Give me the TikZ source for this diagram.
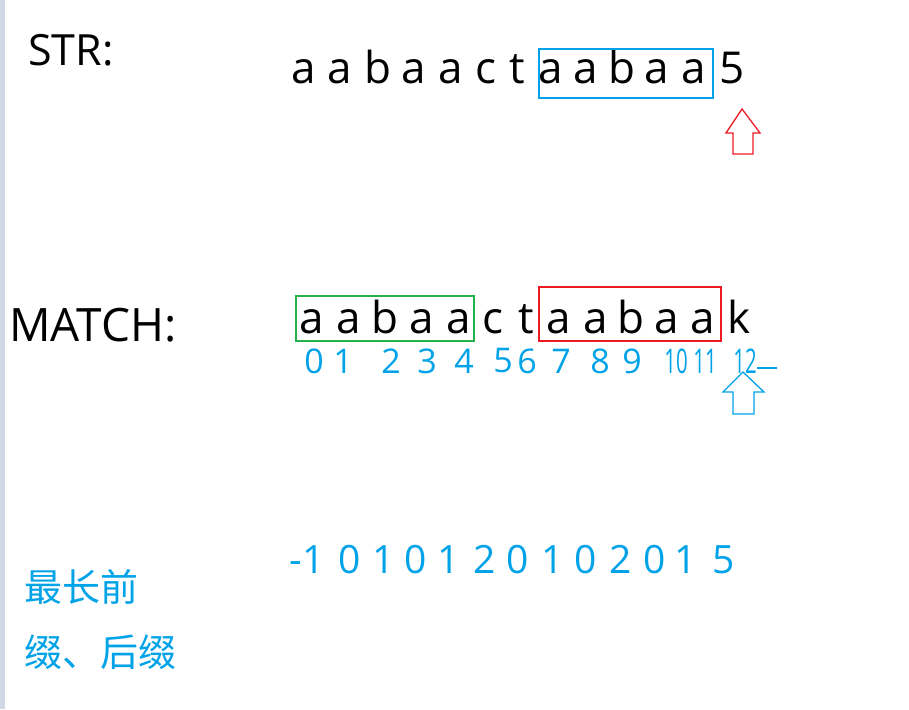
\documentclass[tikz,border=0pt]{standalone}
\usepackage{fontspec}
\setmainfont{Open Sans}
\newfontfamily\cjkfont{Noto Sans CJK SC}
\definecolor{pblue}{RGB}{0,162,232}
\definecolor{pred}{RGB}{237,28,36}
\definecolor{pgreen}{RGB}{34,177,76}
\definecolor{barcol}{RGB}{208,216,232}
\begin{document}
\begin{tikzpicture}[x=1pt,y=-1pt,
  chr/.style={inner sep=0pt,anchor=base,font=\fontsize{44}{50}\selectfont},
  lbl/.style={inner sep=0pt,anchor=base west,font=\fontsize{43}{50}\selectfont},
  hand/.style={inner sep=0pt,anchor=center,text=pblue,font=\fontsize{34}{38}\selectfont},
  num/.style={inner sep=0pt,anchor=base,text=pblue,font=\fontsize{39}{44}\selectfont},
  cjk/.style={inner sep=0pt,anchor=base west,text=pblue,font=\cjkfont\fontsize{38}{44}\selectfont},
  boxline/.style={line width=1.6pt},
  arrowshape/.style={line width=1.3pt,line join=miter}]
\useasboundingbox (0,0) rectangle (909,709);
\fill[barcol] (0,0) rectangle (5,709);
% labels
\node[lbl] (str) at (28,66) {STR:};
\node[lbl,font=\fontsize{46}{52}\selectfont] (match) at (9,341) {MATCH:};
% row 1
\foreach \c/\x [count=\i] in {a/304,a/340,b/378,a/414,a/451,c/486,t/517,a/551,a/586,b/622,a/657,a/694,5/732}
  \node[chr] (s\i) at (\x,83) {\c};
\draw[pblue,boxline] (539,49) rectangle (713,98);
% red arrow
\draw[pred,arrowshape] (742,109) -- (760,133) -- (753,133) -- (753,154) -- (733,154) -- (733,133) -- (726,133) -- cycle;
% row 2
\foreach \c/\x [count=\i] in {a/312,a/349,b/385,a/422,a/459,c/493,t/526,a/559,a/596,b/631,a/667,a/703,k/739}
  \node[chr] (m\i) at (\x,333) {\c};
\draw[pgreen,boxline] (296,296) rectangle (474,341);
\draw[pred,boxline] (539,287) rectangle (721,341);
% handwritten indices
\foreach \t/\x [count=\i] in {0/314,1/343,2/391,3/427,4/464,5/503,6/527,7/561,8/600,9/632}
  \node[hand] (h\i) at (\x,361) {\t};
\node[hand] (h11) at (676,361) {\scalebox{0.6}[1]{10}};
\node[hand] (h12) at (705,361) {\scalebox{0.6}[1]{11}};
\node[hand] (h13) at (745,361) {\scalebox{0.6}[1]{12}};
\coordinate (tail) at (777,368);
\draw[pblue,line width=1.3pt] (h13.east |- tail) -- (tail);
% blue arrow
\draw[pblue,arrowshape] (743,372) -- (764,392) -- (754,392) -- (754,414) -- (733,414) -- (733,392) -- (723,392) -- cycle;
% next array
\foreach \t/\x [count=\i] in {-1/307,0/350,1/384,0/416,1/449,2/485,0/518,1/553,0/586,2/621,0/655,1/686,5/724}
  \node[num] (n\i) at (\x,573) {\t};
% chinese
\node[cjk] (c1) at (24,601) {最长前};
\node[cjk] (c2) at (24,666) {缀、后缀};
\end{tikzpicture}
\end{document}
